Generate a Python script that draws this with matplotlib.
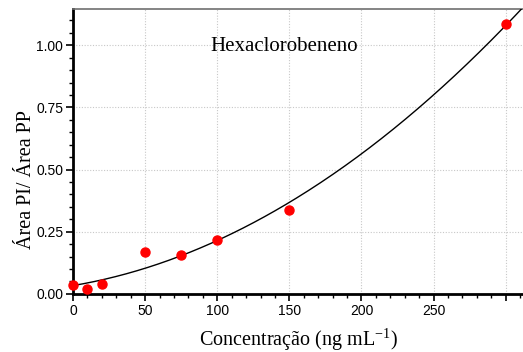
import numpy as np
import matplotlib
matplotlib.use("Agg")
import matplotlib.pyplot as plt
from matplotlib.ticker import MultipleLocator, FormatStrFormatter

# Calibration data: concentration vs. peak-area ratio
concentracao = [0, 10, 20, 50, 75, 100, 150, 300]
razao_area = [0.035, 0.018, 0.038, 0.167, 0.156, 0.218, 0.336, 1.085]
x_ticks = [0, 50, 100, 150, 200, 250, 300]
x_tick_labels = ["0", "50", "100", "150", "200", "250", ""]
y_ticks = [0.00, 0.25, 0.50, 0.75, 1.00]

# Second-order polynomial fit to the calibration points
coef = np.polyfit(concentracao, razao_area, 2)
xf = np.linspace(0, 315, 300)
yf = np.polyval(coef, xf)

fig = plt.figure(figsize=(5.23, 3.52), dpi=100)
ax = fig.add_axes([0.1396, 0.165, 0.8604, 0.809])

ax.plot(xf, yf, color="black", lw=1.0, zorder=3)
ax.plot(concentracao, razao_area, "o", color="#ff0000", ms=6.5, mec="#ff0000", zorder=4, clip_on=False)

ax.set_xlim(0, 312)
ax.set_ylim(0, 1.145)

ax.set_xticks(x_ticks)
ax.set_xticklabels(x_tick_labels)
ax.set_yticks(y_ticks)
ax.yaxis.set_major_formatter(FormatStrFormatter("%.2f"))
ax.xaxis.set_minor_locator(MultipleLocator(10))
ax.yaxis.set_minor_locator(MultipleLocator(0.05))

ax.grid(True, which="major", color="#c8c8c8", ls=(0, (1, 1.5)), lw=0.8)
ax.set_axisbelow(True)

for lbl in ax.get_xticklabels() + ax.get_yticklabels():
    lbl.set_fontfamily("Liberation Sans")
    lbl.set_fontsize(10)

ax.tick_params(which="major", direction="out", length=5, width=1.2, pad=2)
ax.tick_params(which="minor", direction="out", length=3, width=1.0)

ax.spines["left"].set_linewidth(2)
ax.spines["bottom"].set_linewidth(2)
ax.spines["top"].set_color("#707070")
ax.spines["top"].set_linewidth(1.2)
ax.spines["right"].set_visible(False)

serif = "Liberation Serif"
ax.set_xlabel("Concentração (ng mL$^{\\mathregular{-1}}$)", fontfamily=serif, fontsize=14.5, labelpad=6)
ax.set_ylabel("Área PI/ Área PP", fontfamily=serif, fontsize=14.5, labelpad=4)
ax.yaxis.set_label_coords(-0.083, 0.40)
ax.text(0.47, 0.87, "Hexaclorobeneno", transform=ax.transAxes, ha="center", va="center",
        fontfamily=serif, fontsize=15)

fig.savefig("out.png", dpi=100)
